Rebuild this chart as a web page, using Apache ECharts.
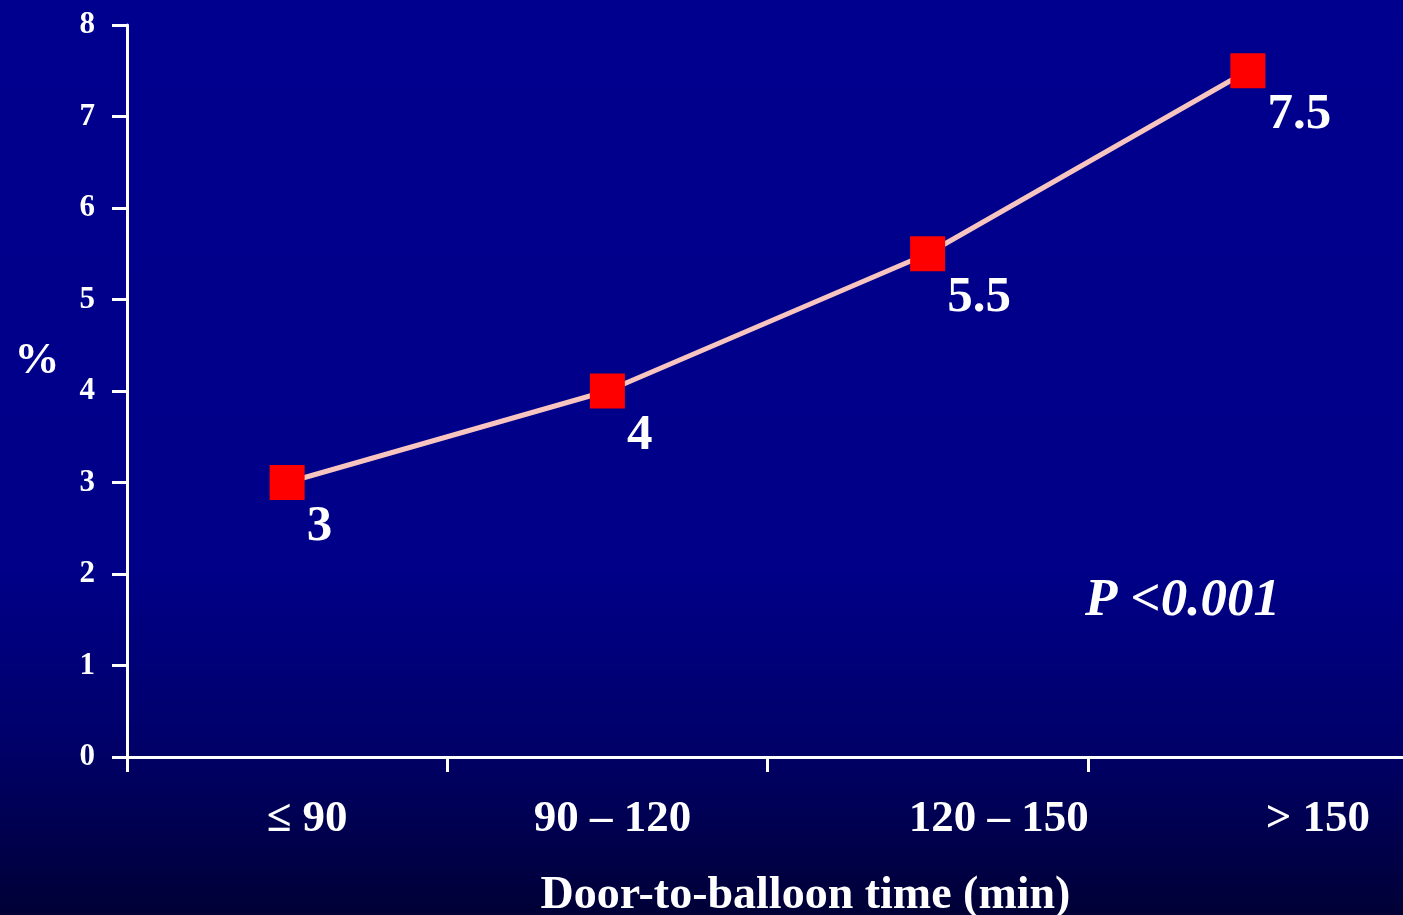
<!DOCTYPE html>
<html>
<head>
<meta charset="utf-8">
<title>Door-to-balloon time</title>
<script src="https://cdn.jsdelivr.net/npm/echarts@6/dist/echarts.min.js"></script>
<style>
  html, body { margin: 0; padding: 0; width: 100%; height: 100%; overflow: hidden; }
  #chart { width: 1403px; height: 915px; }
</style>
</head>
<body>
<div id="chart"></div>
<script>
// Door-to-balloon time groups and the rate (%) in each group
const categories = ['≤ 90', '90 – 120', '120 – 150', '> 150'];
const rates = [3, 4, 5.5, 7.5];
const yTicks = [0, 1, 2, 3, 4, 5, 6, 7, 8];
const yUnit = '%';
const pText = 'P <0.001';

const serif = '"Liberation Serif", "Times New Roman", serif';
// per-label horizontal shift of the category texts
const labelShift = [20, 5, 71, 70];

const chart = echarts.init(document.getElementById('chart'));

const rich = {};
categories.forEach((c, i) => {
  rich['c' + i] = {
    color: '#ffffff', fontFamily: serif, fontWeight: 'bold', fontSize: 45,
    padding: [0, 0, 0, labelShift[i] * 2]
  };
});

chart.setOption({
  backgroundColor: {
    type: 'linear', x: 0, y: 0, x2: 0, y2: 1,
    colorStops: [
      { offset: 0, color: '#00008e' },
      { offset: 0.62, color: '#000088' },
      { offset: 0.8, color: '#00006c' },
      { offset: 1, color: '#000036' }
    ]
  },
  animation: false,
  grid: { left: 127, top: 25, right: -5, bottom: 158, containLabel: false, outerBoundsMode: 'none' },
  xAxis: {
    type: 'category',
    data: categories,
    boundaryGap: true,
    name: 'Door-to-balloon time (min)',
    nameLocation: 'middle',
    nameGap: 116,
    nameTextStyle: {
      color: '#ffffff', fontFamily: serif, fontWeight: 'bold', fontSize: 46,
      padding: [0, 0, 0, 76]
    },
    axisLine: { lineStyle: { color: '#ffffff', width: 3 } },
    axisTick: { show: true, length: 15, lineStyle: { color: '#ffffff', width: 3 }, alignWithLabel: false },
    axisLabel: {
      margin: 40,
      interval: 0,
      formatter: (v, i) => '{c' + i + '|' + v + '}',
      rich: rich
    },
    splitLine: { show: false }
  },
  yAxis: {
    type: 'value',
    min: yTicks[0],
    max: yTicks[yTicks.length - 1],
    interval: 1,
    axisLine: { show: true, lineStyle: { color: '#ffffff', width: 3 } },
    axisTick: { show: true, length: 15, lineStyle: { color: '#ffffff', width: 3 } },
    axisLabel: {
      color: '#ffffff', fontFamily: serif, fontWeight: 'bold', fontSize: 31, margin: 32
    },
    splitLine: { show: false }
  },
  series: [{
    type: 'line',
    data: rates,
    symbol: 'rect',
    symbolSize: 35,
    itemStyle: { color: '#ff0000' },
    lineStyle: { color: '#f8c4c0', width: 5 },
    z: 3,
    label: {
      show: true,
      position: [37, 62],
      align: 'left',
      verticalAlign: 'middle',
      color: '#ffffff',
      fontFamily: serif,
      fontWeight: 'bold',
      fontSize: 51,
      formatter: p => String(p.value)
    }
  }],
  graphic: [{
    type: 'text',
    x: 37,
    y: 361,
    style: {
      text: yUnit,
      fill: '#ffffff',
      font: 'bold 45px ' + serif,
      align: 'center',
      verticalAlign: 'middle'
    }
  }, {
    type: 'text',
    left: 1085,
    top: 575,
    style: {
      text: pText,
      fill: '#ffffff',
      font: 'italic bold 53px ' + serif
    }
  }]
});
</script>
</body>
</html>
